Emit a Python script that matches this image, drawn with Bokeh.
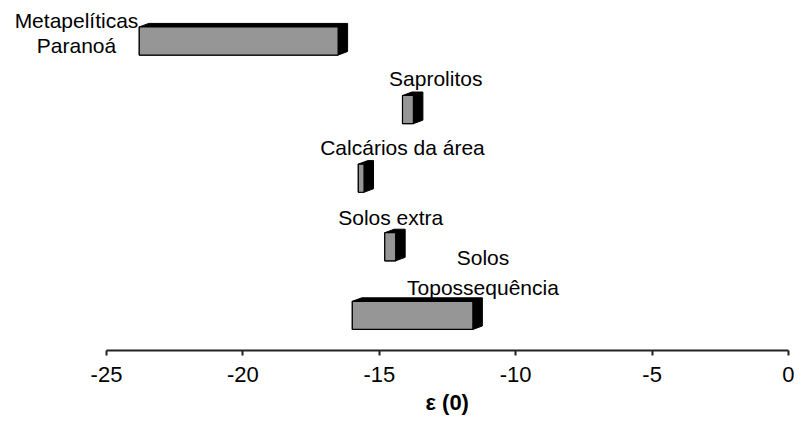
from bokeh.plotting import figure
from bokeh.models import Range1d, FixedTicker, Title, ColumnDataSource
from bokeh.core.properties import value
from bokeh.embed import file_html
from bokeh.resources import INLINE

# ---- data ----
categories = ["Metapelíticas Paranoá", "Saprolitos", "Calcários da área",
              "Solos extra", "Solos Topossequência"]
range_low = [-23.80, -14.15, -15.77, -14.80, -15.99]
range_high = [-16.51, -13.75, -15.56, -14.40, -11.57]
x_ticks = [-25, -20, -15, -10, -5, 0]
x_title = "ε (0)"

label_lines = ["Metapelíticas", "Paranoá", "Saprolitos", "Calcários da área",
               "Solos extra", "Solos", "Topossequência"]
label_x = [-26.10, -26.10, -12.93, -14.15, -14.58, -11.20, -11.20]
label_y = [4.30, 3.93, 3.45, 2.45, 1.43, 0.85, 0.41]

# ---- layout ----
W, H = 794, 432
FRAME_H = 350
AX_LEFT_PX, AX_RIGHT_PX = 106, 788          # pixel positions of -25 and 0
scale = (AX_RIGHT_PX - AX_LEFT_PX) / (x_ticks[-1] - x_ticks[0])
XL = x_ticks[0] - AX_LEFT_PX / scale
XR = x_ticks[-1] + (W - AX_RIGHT_PX) / scale
YB = -0.512
YT = YB + FRAME_H / 68.6
FONT = "Liberation Sans"

n = len(categories)
ypos = [n - 1 - i for i in range(n)]
bar_h = 0.41
dx = 9.5 / scale
dy = 3.5 * (YT - YB) / FRAME_H

front = ColumnDataSource(dict(
    left=range_low, right=range_high,
    bottom=[y - bar_h / 2 for y in ypos], top=[y + bar_h / 2 for y in ypos],
))
xs, ys = [], []
for lo, hi, y in zip(range_low, range_high, ypos):
    b, t = y - bar_h / 2, y + bar_h / 2
    xs.append([lo, lo, lo + dx, hi + dx, hi + dx, hi])
    ys.append([b, t, t + dy, t + dy, b + dy, b])

p = figure(width=W, height=H, output_backend="svg", toolbar_location=None,
           x_range=Range1d(XL, XR), y_range=Range1d(YB, YT),
           min_border_left=0, min_border_right=0, min_border_top=0,
           min_border_bottom=H - FRAME_H, y_axis_location=None)
p.outline_line_color = None
p.grid.visible = False
p.background_fill_color = "white"
p.border_fill_color = "white"

# 3D extrusion (black), then the front face
p.patches(xs=xs, ys=ys, fill_color="black", line_color="black", line_width=1)
p.quad(left="left", right="right", bottom="bottom", top="top", source=front,
       fill_color="#969696", line_color="black", line_width=1.2)

p.text(x=label_x, y=label_y, text=label_lines, text_font=value(FONT),
       text_font_size="21px", text_align="center", text_baseline="alphabetic",
       text_color="black")

ax = p.xaxis[0]
ax.bounds = (x_ticks[0], x_ticks[-1])
ax.ticker = FixedTicker(ticks=x_ticks)
ax.major_label_overrides = {t: str(t) for t in x_ticks}
ax.minor_tick_line_color = None
ax.major_tick_in = 0
ax.major_tick_out = 5
ax.major_tick_line_width = 2
ax.major_tick_line_color = "#222222"
ax.axis_line_width = 2
ax.axis_line_color = "#222222"
ax.major_label_text_font = FONT
ax.major_label_text_font_size = "22px"
ax.major_label_text_color = "black"
ax.major_label_standoff = 11

mid_px = (AX_LEFT_PX + AX_RIGHT_PX) / 2
title_w = 44
title = Title(text=x_title, align="left", offset=mid_px - title_w / 2,
              text_font=FONT, text_font_size="22px", text_font_style="bold",
              text_color="black", standoff=6)
p.add_layout(title, "below")

open("out.html", "w").write(file_html(p, INLINE))
